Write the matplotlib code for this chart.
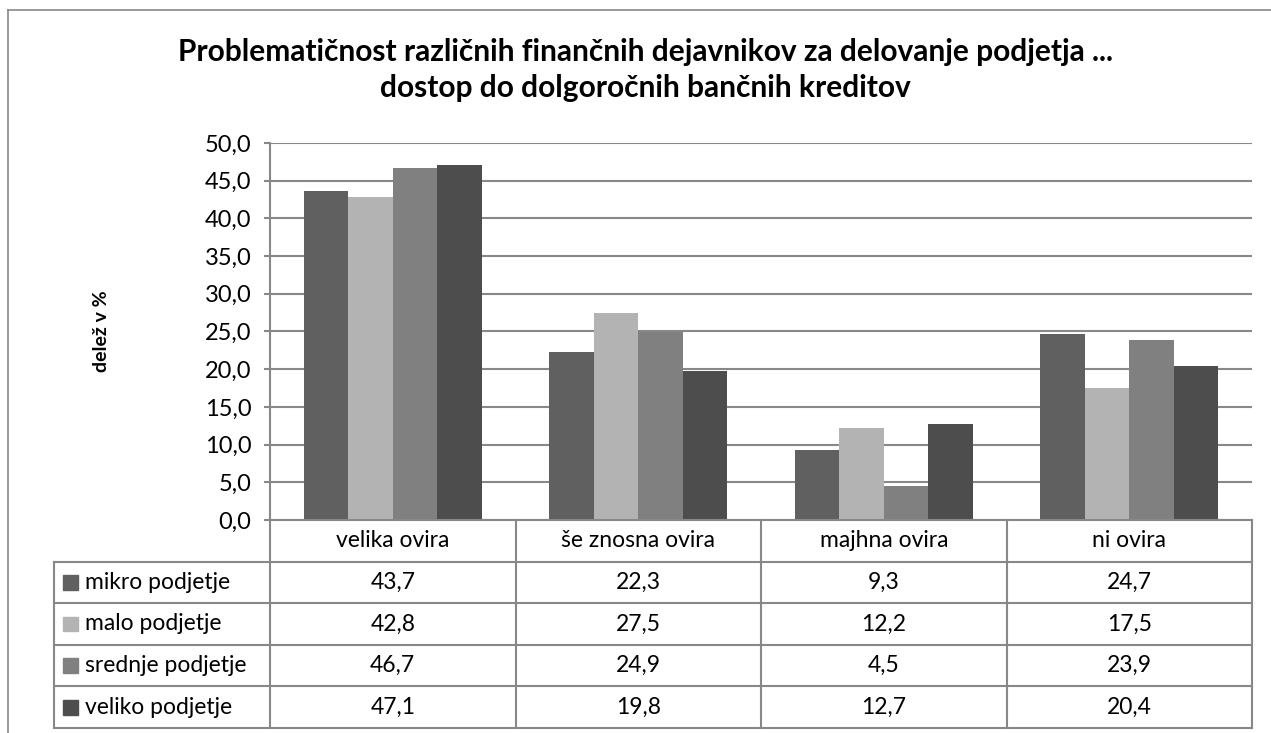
import matplotlib
matplotlib.use("Agg")
import matplotlib.pyplot as plt
from matplotlib.lines import Line2D
from matplotlib.patches import Rectangle
import numpy as np

plt.rcParams["font.family"] = ["Lato", "DejaVu Sans"]

categories = ["velika ovira", "še znosna ovira", "majhna ovira", "ni ovira"]
series = ["mikro podjetje", "malo podjetje", "srednje podjetje", "veliko podjetje"]
mikro = [43.7, 22.3, 9.3, 24.7]
malo = [42.8, 27.5, 12.2, 17.5]
srednje = [46.7, 24.9, 4.5, 23.9]
veliko = [47.1, 19.8, 12.7, 20.4]
values = [mikro, malo, srednje, veliko]
colors = ["#606060", "#b3b3b3", "#808080", "#4d4d4d"]
yticks = np.arange(0, 50.1, 5)

W, H = 1271, 733
fig = plt.figure(figsize=(W / 100, H / 100), dpi=100)


def px(x0, y0, x1, y1):
    # pixel box (top-left origin) -> figure fraction rect
    return [x0 / W, 1 - y1 / H, (x1 - x0) / W, (y1 - y0) / H]


grid_c = "#888888"

# outer chart border (top and left visible)
fig.add_artist(Line2D([8 / W, 1], [1 - 10 / H] * 2, color=grid_c, lw=1.2))
fig.add_artist(Line2D([8 / W] * 2, [0, 1 - 10 / H], color=grid_c, lw=1.2))

ax = fig.add_axes(px(270, 143, 1252, 520))
n = len(series)
bw = 0.725 / n
x = np.arange(len(categories))
for i, (vals, c) in enumerate(zip(values, colors)):
    ax.bar(x - 0.725 / 2 + bw * (i + 0.5), vals, width=bw, color=c, zorder=3)
ax.set_xlim(-0.5, len(categories) - 0.5)
ax.set_ylim(0, 50)
ax.set_yticks(yticks)
ax.set_yticklabels([f"{v:.1f}".replace(".", ",") for v in yticks], fontsize=17)
ax.set_xticks([])
ax.yaxis.grid(True, color=grid_c, lw=1.5, zorder=0)
for s in ["top", "right", "bottom"]:
    ax.spines[s].set_visible(False)
ax.spines["left"].set_color(grid_c)
ax.spines["left"].set_linewidth(1.5)
ax.tick_params(axis="y", length=4.5, width=1.5, color=grid_c, pad=9)
ax.set_ylabel("delež v %", fontsize=14, fontweight="bold", labelpad=68)

# data table below the plot
cell = (1252 - 270) / len(categories)
lab_w = (270 - 54) / cell
tx = fig.add_axes(px(54, 520, 1252, 728))
tx.set_xlim(-0.5 - lab_w, len(categories) - 0.5)
tx.set_ylim(n + 1, 0)
tx.axis("off")
lkw = dict(color=grid_c, lw=1.5, clip_on=False)
tx.plot([-0.5, len(categories) - 0.5], [0, 0], **lkw)
for r in range(1, n + 2):
    tx.plot([-0.5 - lab_w, len(categories) - 0.5], [r, r], **lkw)
for b in range(len(categories) + 1):
    tx.plot([b - 0.5, b - 0.5], [0, n + 1], **lkw)
tx.plot([-0.5 - lab_w] * 2, [1, n + 1], **lkw)
for j, cat in enumerate(categories):
    tx.text(j, 0.5, cat, ha="center", va="center", fontsize=16.5)
sq = 15 / cell
for i, (name, vals, c) in enumerate(zip(series, values, colors)):
    y = i + 1.5
    tx.add_patch(Rectangle((-0.5 - lab_w + 9 / cell, y - 0.18), sq, 0.36,
                           color=c, clip_on=False))
    tx.text(-0.5 - lab_w + 31 / cell, y, name, ha="left", va="center", fontsize=16.5)
    for j, v in enumerate(vals):
        tx.text(j, y, f"{v:.1f}".replace(".", ","), ha="center", va="center", fontsize=16.5)

fig.text(645 / W, 1 - 70 / H,
         "Problematičnost različnih finančnih dejavnikov za delovanje podjetja ...\n"
         "dostop do dolgoročnih bančnih kreditov",
         ha="center", va="center", fontsize=21.5, fontweight="bold", linespacing=1.35)

fig.savefig("out.png", dpi=100)
